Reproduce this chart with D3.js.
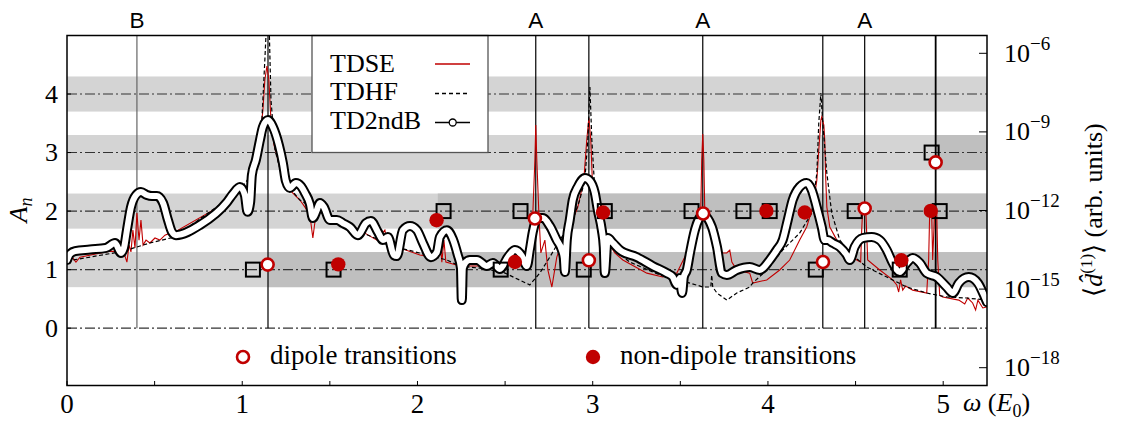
<!DOCTYPE html>
<html><head><meta charset="utf-8">
<script src="https://cdn.jsdelivr.net/npm/d3@7"></script>
<style>body{margin:0;background:#fff}svg{display:block}</style>
</head><body>
<svg id="c" width="1122" height="421"></svg>
<script>
// ---------------- data ----------------
const xTicks = [0, 1, 2, 3, 4, 5];
const xMinorTicks = [0.5, 1.5, 2.5, 3.5, 4.5];
const aTicks = [0, 1, 2, 3, 4];
const dipoleTickExps = [-6, -9, -12, -15, -18];
const bandLevels = [1, 2, 3, 4];
const darkBandLevels = [1, 2, 3];
const darkBandStart = [1.147, 2.116, 4.957];
const verticalOmegas = [0.399, 1.147, 2.675, 2.978, 3.628, 4.313, 4.552, 4.957];
const topLabelOmegas = [0.399, 2.675, 3.628, 4.552];
const topLabelTexts = ["B", "A", "A", "A"];
const seriesNames = ["TDSE", "TDHF", "TD2ndB"];

// spectra: [omega (E0), log10 <d^(1)> (arb. units)]
const tdse = [
[0,-13.93],[0.029,-13.78],[0.051,-13.97],[0.074,-13.78],[0.245,-13.55],[0.302,-13.58],[0.325,-13.62],[0.342,-13.97],[0.354,-13.32],[0.365,-13.58],[0.376,-12.75],[0.388,-13.43],[0.399,-12.10],[0.411,-13.13],[0.422,-12.36],[0.434,-13.32],[0.451,-13.13],[0.473,-13.24],[0.502,-13.05],[0.530,-13.13],[0.559,-12.94],[0.588,-12.86],[0.616,-12.82],[0.913,-11.68],[0.987,-11.22],[1.044,-11.03],[1.078,-10.26],[1.101,-9.31],[1.118,-8.16],[1.129,-7.02],[1.141,-6.49],[1.152,-7.02],[1.164,-8.55],[1.181,-9.50],[1.204,-10.07],[1.232,-10.84],[1.272,-11.22],[1.329,-11.60],[1.358,-11.87],[1.386,-12.17],[1.403,-13.05],[1.420,-12.17],[1.443,-12.06],[1.557,-12.36],[1.671,-12.75],[1.768,-13.13],[1.814,-12.75],[1.825,-13.20],[1.900,-13.43],[2.014,-13.70],[2.111,-13.81],[2.128,-13.01],[2.139,-13.97],[2.151,-13.13],[2.162,-13.97],[2.202,-14.04],[2.242,-14.12],[2.356,-14.12],[2.470,-14.20],[2.516,-13.97],[2.539,-13.81],[2.556,-13.51],[2.584,-13.97],[2.630,-14.08],[2.658,-12.17],[2.670,-10.07],[2.675,-8.74],[2.681,-10.07],[2.693,-12.17],[2.704,-13.62],[2.727,-13.13],[2.744,-14.27],[2.767,-14.92],[2.795,-13.78],[2.829,-13.13],[2.869,-12.63],[2.915,-11.87],[2.949,-10.84],[2.966,-9.31],[2.978,-8.47],[2.989,-9.31],[3.000,-11.22],[3.018,-11.87],[3.040,-12.63],[3.080,-13.13],[3.126,-13.62],[3.172,-13.89],[3.309,-14.39],[3.400,-14.54],[3.480,-14.39],[3.537,-13.62],[3.594,-12.75],[3.617,-11.87],[3.622,-10.07],[3.628,-9.08],[3.634,-10.07],[3.639,-11.87],[3.668,-12.63],[3.725,-13.62],[3.765,-13.62],[3.782,-13.51],[3.794,-13.97],[3.822,-14.27],[3.896,-14.39],[3.913,-14.77],[3.993,-14.65],[4.067,-14.27],[4.124,-13.89],[4.181,-13.13],[4.221,-12.63],[4.256,-11.87],[4.279,-10.84],[4.290,-9.69],[4.302,-8.55],[4.307,-8.43],[4.319,-8.74],[4.324,-9.31],[4.330,-10.84],[4.336,-11.87],[4.353,-12.63],[4.393,-13.13],[4.450,-13.62],[4.507,-13.89],[4.529,-13.97],[4.535,-12.75],[4.541,-11.87],[4.558,-11.87],[4.564,-12.94],[4.569,-13.89],[4.638,-14.27],[4.712,-14.65],[4.735,-14.84],[4.746,-15.11],[4.757,-14.65],[4.769,-15.04],[4.786,-14.88],[4.826,-15.04],[4.906,-15.15],[4.917,-13.89],[4.923,-12.06],[4.934,-11.98],[4.940,-13.89],[4.951,-12.06],[4.963,-11.98],[4.969,-13.89],[4.980,-15.23],[4.997,-15.30],[5.089,-15.42],[5.123,-15.57],[5.140,-15.34],[5.168,-15.53],[5.185,-15.80],[5.198,-15.42],[5.226,-15.72],[5.248,-15.68]
];
const tdhf = [
[0,-13.93],[0.302,-13.58],[0.342,-13.51],[0.473,-13.24],[0.616,-13.01],[0.987,-11.22],[1.072,-10.45],[1.112,-8.55],[1.129,-6.25],[1.141,-4.5],[1.152,-4.5],[1.164,-7.78],[1.187,-9.69],[1.232,-10.84],[1.329,-11.60],[1.443,-12.06],[1.671,-12.82],[1.900,-13.43],[2.168,-13.89],[2.242,-14.12],[2.356,-14.20],[2.487,-14.35],[2.641,-14.84],[2.698,-14.39],[2.755,-13.78],[2.812,-13.13],[2.886,-12.36],[2.926,-11.60],[2.955,-10.84],[2.972,-9.31],[2.984,-7.29],[2.995,-9.31],[3.012,-11.22],[3.058,-12.63],[3.126,-13.51],[3.212,-13.97],[3.383,-14.46],[3.480,-14.65],[3.555,-14.77],[3.629,-14.92],[3.674,-14.92],[3.679,-14.46],[3.685,-14.92],[3.709,-15.15],[3.765,-15.42],[3.822,-15.15],[3.896,-14.92],[3.913,-14.77],[3.993,-14.27],[4.084,-13.51],[4.181,-12.86],[4.250,-12.10],[4.279,-10.57],[4.290,-8.66],[4.302,-7.52],[4.313,-8.66],[4.336,-10.57],[4.364,-12.10],[4.410,-13.13],[4.467,-13.62],[4.564,-14.16],[4.678,-14.54],[4.792,-14.92],[4.906,-15.15],[5.020,-15.30],[5.134,-15.34],[5.248,-15.42]
];
const td2ndB = [
[0,-13.89],[0.017,-13.66],[0.046,-13.55],[0.131,-13.49],[0.222,-13.43],[0.274,-13.24],[0.308,-13.62],[0.325,-13.43],[0.342,-12.75],[0.365,-11.87],[0.394,-11.41],[0.422,-11.29],[0.456,-11.41],[0.485,-11.45],[0.513,-11.45],[0.548,-11.71],[0.576,-12.36],[0.599,-12.82],[0.622,-12.94],[0.759,-12.55],[0.913,-11.68],[0.947,-11.37],[0.987,-11.10],[1.015,-11.41],[1.030,-12.05],[1.045,-11.70],[1.055,-10.65],[1.078,-10.07],[1.101,-9.31],[1.118,-8.81],[1.147,-8.55],[1.175,-8.81],[1.209,-9.50],[1.232,-10.19],[1.249,-10.87],[1.272,-11.14],[1.306,-10.95],[1.335,-11.07],[1.358,-11.33],[1.386,-11.75],[1.403,-12.29],[1.426,-11.98],[1.443,-11.71],[1.466,-11.87],[1.500,-12.36],[1.540,-12.36],[1.574,-12.48],[1.614,-12.63],[1.660,-12.94],[1.706,-12.48],[1.734,-12.40],[1.774,-12.82],[1.803,-13.13],[1.831,-13.01],[1.865,-13.70],[1.882,-13.74],[1.917,-12.75],[1.957,-12.59],[1.997,-12.75],[2.031,-13.24],[2.077,-13.78],[2.111,-13.58],[2.128,-13.01],[2.168,-12.75],[2.202,-13.09],[2.230,-13.70],[2.248,-14.20],[2.253,-15.42],[2.259,-14.20],[2.276,-13.97],[2.299,-13.89],[2.339,-13.89],[2.396,-14.12],[2.430,-14.00],[2.470,-14.23],[2.516,-13.78],[2.556,-13.51],[2.596,-13.74],[2.624,-14.12],[2.641,-13.51],[2.658,-12.82],[2.687,-12.29],[2.715,-12.29],[2.755,-12.59],[2.795,-13.13],[2.824,-13.51],[2.835,-13.81],[2.841,-14.35],[2.852,-13.13],[2.869,-12.36],[2.886,-11.60],[2.915,-11.10],[2.955,-10.76],[2.984,-10.87],[3.012,-11.33],[3.029,-11.98],[3.052,-12.75],[3.063,-13.39],[3.069,-14.39],[3.086,-13.05],[3.115,-13.24],[3.155,-13.51],[3.252,-13.78],[3.343,-14.12],[3.423,-14.39],[3.457,-14.54],[3.480,-14.84],[3.497,-14.58],[3.510,-15.15],[3.520,-14.54],[3.537,-14.27],[3.555,-13.62],[3.583,-12.75],[3.629,-12.17],[3.680,-12.63],[3.709,-13.39],[3.737,-14.39],[3.765,-14.46],[3.822,-14.27],[3.896,-14.16],[3.953,-14.27],[4.010,-13.89],[4.050,-13.51],[4.084,-13.13],[4.113,-12.36],[4.141,-11.60],[4.181,-11.10],[4.221,-10.95],[4.250,-11.22],[4.278,-11.87],[4.307,-12.63],[4.324,-13.13],[4.341,-13.13],[4.370,-13.24],[4.410,-13.39],[4.450,-13.70],[4.467,-13.89],[4.495,-13.39],[4.541,-13.05],[4.592,-13.01],[4.638,-13.13],[4.678,-13.51],[4.712,-14.00],[4.752,-14.35],[4.792,-14.00],[4.826,-13.81],[4.866,-14.00],[4.906,-14.39],[4.963,-14.54],[5.020,-14.92],[5.055,-15.15],[5.089,-14.77],[5.146,-14.54],[5.198,-14.77],[5.237,-15.30],[5.25,-15.50]
];

// markers: omega and A_n
const squareOmega = [1.061, 1.521, 2.149, 2.588, 2.475, 2.949, 3.069, 3.564, 3.860, 4.010, 4.273, 4.495, 4.752, 4.980, 4.934];
const squareA =     [1, 1, 2, 2, 1, 1, 2, 2, 2, 2, 1, 2, 1, 2, 3];
const dipoleOmega = [1.145, 2.670, 2.978, 3.630, 4.314, 4.552, 4.957];
const dipoleA =     [1.086, 1.873, 1.159, 1.959, 1.130, 2.045, 2.832];
const nonDipoleOmega = [1.548, 2.109, 2.556, 3.059, 3.991, 4.210, 4.761, 4.929];
const nonDipoleA =     [1.090, 1.844, 1.130, 1.976, 2.003, 1.976, 1.159, 2.003];

// ---------------- drawing ----------------
const svg = d3.select("#c");
const L = 67, R = 987, T = 35.5, B = 385.5;
const RED = "#c00000";
const serif = "'Liberation Serif','Times New Roman',serif";
const sans = "'Liberation Sans',Arial,sans-serif";

const x = d3.scaleLinear().domain([0, 5.25]).range([L, R]);
const yA = d3.scaleLinear().domain([-0.98, 5.0]).range([B, T]);
const yD = d3.scaleLog().domain([1e-18, 1e-6]).range([367.7, 53.3]);

svg.append("defs").append("clipPath").attr("id", "clip")
  .append("rect").attr("x", L).attr("y", T).attr("width", R - L).attr("height", B - T);

// bands
const bandHalf = 0.3;
svg.append("g").selectAll("rect").data(bandLevels).join("rect")
  .attr("x", L).attr("width", R - L)
  .attr("y", d => yA(d + bandHalf)).attr("height", d => yA(d - bandHalf) - yA(d + bandHalf))
  .attr("fill", "#d4d4d4");
svg.append("g").selectAll("rect").data(darkBandLevels).join("rect")
  .attr("x", (d, i) => x(darkBandStart[i])).attr("width", (d, i) => R - x(darkBandStart[i]))
  .attr("y", d => yA(d + bandHalf)).attr("height", d => yA(d - bandHalf) - yA(d + bandHalf))
  .attr("fill", "#bfbfbf");

// dash-dot levels
svg.append("g").selectAll("line").data(aTicks).join("line")
  .attr("x1", L).attr("x2", R).attr("y1", d => yA(d)).attr("y2", d => yA(d))
  .attr("stroke", "#333").attr("stroke-width", 1.1).attr("stroke-dasharray", "10 3 2 3");

// vertical lines
svg.append("g").selectAll("line").data(verticalOmegas).join("line")
  .attr("x1", d => x(d)).attr("x2", d => x(d)).attr("y1", T).attr("y2", yA(0))
  .attr("stroke", (d, i) => i === 0 ? "#666" : "#000")
  .attr("stroke-width", (d, i) => i === verticalOmegas.length - 1 ? 1.8 : 1.2);

// top labels
svg.append("g").selectAll("text").data(topLabelOmegas).join("text")
  .attr("x", d => x(d)).attr("y", 27.5).attr("text-anchor", "middle")
  .attr("font-family", sans).attr("font-size", 22.5).text((d, i) => topLabelTexts[i]);

// legend box (top)
const lg = svg.append("g");
lg.append("rect").attr("x", 312).attr("y", T).attr("width", 176).attr("height", 117)
  .attr("fill", "#fff").attr("stroke", "#555").attr("stroke-width", 1.3);

// curves
const cg = svg.append("g").attr("clip-path", "url(#clip)");
const lineGen = d3.line().x(d => x(d[0])).y(d => yD(Math.pow(10, d[1])));
const smoothGen = d3.line().x(d => x(d[0])).y(d => yD(Math.pow(10, d[1]))).curve(d3.curveMonotoneX);
cg.append("path").datum(tdse).attr("d", lineGen).attr("fill", "none")
  .attr("stroke", RED).attr("stroke-width", 1.1);
cg.append("path").datum(tdhf).attr("d", lineGen).attr("fill", "none")
  .attr("stroke", "#000").attr("stroke-width", 1.2).attr("stroke-dasharray", "4 2.5");
cg.append("path").datum(td2ndB).attr("d", smoothGen).attr("fill", "none")
  .attr("stroke", "#000").attr("stroke-width", 10).attr("stroke-linejoin", "round").attr("stroke-linecap", "round");
cg.append("path").datum(td2ndB).attr("d", smoothGen).attr("fill", "none")
  .attr("stroke", "#fff").attr("stroke-width", 6).attr("stroke-linejoin", "round").attr("stroke-linecap", "round");

// markers
const sq = 14;
svg.append("g").selectAll("rect").data(squareOmega).join("rect")
  .attr("x", d => x(d) - sq / 2).attr("y", (d, i) => yA(squareA[i]) - sq / 2)
  .attr("width", sq).attr("height", sq).attr("fill", "none").attr("stroke", "#000").attr("stroke-width", 2);
svg.append("g").selectAll("circle").data(nonDipoleOmega).join("circle")
  .attr("cx", d => x(d)).attr("cy", (d, i) => yA(nonDipoleA[i])).attr("r", 7.2).attr("fill", RED);
svg.append("g").selectAll("circle").data(dipoleOmega).join("circle")
  .attr("cx", d => x(d)).attr("cy", (d, i) => yA(dipoleA[i])).attr("r", 6).attr("fill", "#fff")
  .attr("stroke", RED).attr("stroke-width", 2.6);

// legend entries
const ly = [71.5, 100, 128.5];
lg.selectAll("text").data(seriesNames).join("text")
  .attr("x", 330).attr("y", (d, i) => ly[i]).attr("font-family", serif).attr("font-size", 26).text(d => d);
svg.append("line").attr("x1", 435).attr("x2", 470).attr("y1", 64).attr("y2", 64).attr("stroke", RED).attr("stroke-width", 1.3);
svg.append("line").attr("x1", 435).attr("x2", 470).attr("y1", 93.5).attr("y2", 93.5).attr("stroke", "#000").attr("stroke-width", 1.3).attr("stroke-dasharray", "4 3");
svg.append("line").attr("x1", 435).attr("x2", 470).attr("y1", 122.5).attr("y2", 122.5).attr("stroke", "#000").attr("stroke-width", 1.3);
svg.append("circle").attr("cx", 452.7).attr("cy", 122.5).attr("r", 3.5).attr("fill", "#fff").attr("stroke", "#000").attr("stroke-width", 1.3);

// bottom legend
svg.append("circle").attr("cx", 243).attr("cy", 357).attr("r", 6).attr("fill", "#fff").attr("stroke", RED).attr("stroke-width", 2.6);
svg.append("text").attr("x", 270).attr("y", 364).attr("font-family", serif).attr("font-size", 27).text("dipole transitions");
svg.append("circle").attr("cx", 593).attr("cy", 357).attr("r", 7.2).attr("fill", RED);
svg.append("text").attr("x", 620).attr("y", 364).attr("font-family", serif).attr("font-size", 27).text("non-dipole transitions");

// frame
svg.append("rect").attr("x", L).attr("y", T).attr("width", R - L).attr("height", B - T)
  .attr("fill", "none").attr("stroke", "#000").attr("stroke-width", 1.5);

// x ticks
svg.append("g").selectAll("line").data(xTicks.concat(xMinorTicks)).join("line")
  .attr("x1", d => x(d)).attr("x2", d => x(d)).attr("y1", B).attr("y2", B - 4.5)
  .attr("stroke", "#000").attr("stroke-width", 1);
svg.append("g").selectAll("text").data(xTicks).join("text")
  .attr("x", d => x(d)).attr("y", 413).attr("text-anchor", "middle")
  .attr("font-family", serif).attr("font-size", 27).text(d => d);
const xl = svg.append("text").attr("x", 963).attr("y", 411).attr("font-family", serif).attr("font-size", 26);
xl.append("tspan").attr("font-style", "italic").text("ω");
xl.append("tspan").text(" (");
xl.append("tspan").attr("font-style", "italic").text("E");
xl.append("tspan").attr("font-size", 18).attr("dy", 6).text("0");
xl.append("tspan").attr("dy", -6).text(")");

// left axis
svg.append("g").selectAll("line").data(aTicks).join("line")
  .attr("x1", L).attr("x2", L + 4).attr("y1", d => yA(d)).attr("y2", d => yA(d))
  .attr("stroke", "#000").attr("stroke-width", 1);
svg.append("g").selectAll("text").data(aTicks).join("text")
  .attr("x", 58).attr("y", d => yA(d) + 8.5).attr("text-anchor", "end")
  .attr("font-family", serif).attr("font-size", 26).text(d => d);
const al = svg.append("text").attr("transform", "translate(27,210) rotate(-90)")
  .attr("text-anchor", "middle").attr("font-family", serif).attr("font-size", 26);
al.append("tspan").attr("font-style", "italic").text("A");
al.append("tspan").attr("font-style", "italic").attr("font-size", 18).attr("dy", 5).text("n");

// right axis
svg.append("g").selectAll("line").data(dipoleTickExps).join("line")
  .attr("x1", R).attr("x2", R - 8).attr("y1", d => yD(Math.pow(10, d))).attr("y2", d => yD(Math.pow(10, d)))
  .attr("stroke", "#000").attr("stroke-width", 1);
const rt = svg.append("g").selectAll("text").data(dipoleTickExps).join("text")
  .attr("x", 1004).attr("y", d => yD(Math.pow(10, d)) + 8.5)
  .attr("font-family", serif).attr("font-size", 26);
rt.append("tspan").text("10");
rt.append("tspan").attr("font-size", 19).attr("dy", -12).text(d => "−" + Math.abs(d));
const rl = svg.append("text").attr("transform", "translate(1102,210) rotate(-90)")
  .attr("text-anchor", "middle").attr("font-family", serif).attr("font-size", 26);
rl.append("tspan").text("⟨");
rl.append("tspan").attr("font-style", "italic").text("d\u0302");
rl.append("tspan").attr("font-size", 17).attr("dy", -10).text("(1)");
rl.append("tspan").attr("dy", 10).text("⟩ (arb. units)");
</script>
</body></html>
